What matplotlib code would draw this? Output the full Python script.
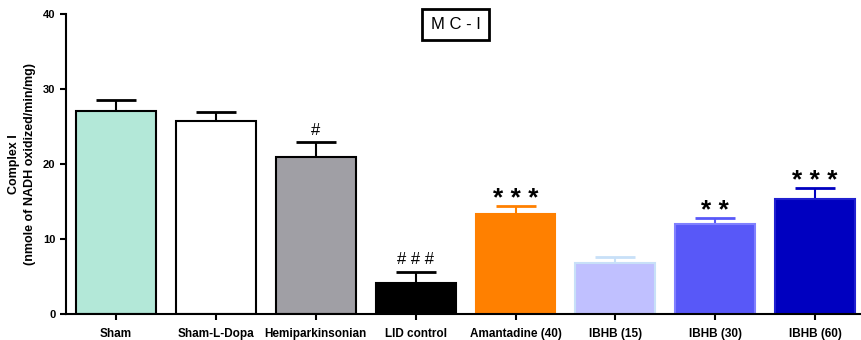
import numpy as np
import matplotlib.pyplot as plt

groups = ['Sham', 'Sham-L-Dopa', 'Hemiparkinsonian', 'LID control',
          'Amantadine (40)', 'IBHB (15)', 'IBHB (30)', 'IBHB (60)']
means = [27.1, 25.7, 20.9, 4.2, 13.3, 6.8, 12.0, 15.3]
sems = [1.5, 1.2, 2.0, 1.4, 1.1, 0.8, 0.8, 1.5]
marks = ['', '', '#', '###', '***', '', '**', '***']

fills = ['#b3e8d8', '#ffffff', '#a09fa5', '#000000',
         '#ff8000', '#c0c0ff', '#5858f8', '#0000c0']
edges = ['#000000', '#000000', '#000000', '#000000',
         '#ff8000', '#c8e0f8', '#8080ff', '#2020d0']
errc = ['#000000', '#000000', '#000000', '#000000',
        '#ff8000', '#c8e0f8', '#5858f8', '#0000c0']

plt.rcParams['font.family'] = ['Liberation Sans', 'DejaVu Sans']

fig = plt.figure(figsize=(8.61, 3.40), dpi=100)
ax = fig.add_axes([66/861, 26/340, 1 - 66/861 - 0.001, 300/340])

x = np.arange(len(groups))
ax.bar(x, means, width=0.8, color=fills, edgecolor=edges, linewidth=1.5, zorder=2)
for i in range(len(groups)):
    ax.errorbar(x[i], means[i], yerr=[[0], [sems[i]]], fmt='none',
                ecolor=errc[i], elinewidth=1.5, capsize=14.5, capthick=2, zorder=1)
    if marks[i]:
        if '*' in marks[i]:
            ax.text(x[i], means[i] + sems[i] - 0.6, ' '.join(marks[i]),
                    ha='center', va='bottom', fontsize=19, fontweight='bold',
                    color='black')
        else:
            ax.text(x[i], means[i] + sems[i] + 0.6, ' '.join(marks[i]),
                    ha='center', va='bottom', fontsize=12, color='black')

ax.set_xlim(-0.5, 7.45)
ax.set_ylim(0, 40)
ax.set_yticks([0, 10, 20, 30, 40])
ax.set_xticks(x)
ax.set_xticklabels(groups, fontsize=8.5, fontweight='bold')
ax.tick_params(axis='y', labelsize=8, width=1.5, length=4)
for lab in ax.get_yticklabels():
    lab.set_fontweight('bold')
ax.tick_params(axis='x', width=1.5, length=4, pad=6)
for s in ['top', 'right']:
    ax.spines[s].set_visible(False)
for s in ['left', 'bottom']:
    ax.spines[s].set_linewidth(1.5)

ax.set_ylabel('Complex I\n(nmole of NADH oxidized/min/mg)', fontsize=9,
              fontweight='bold', labelpad=5, linespacing=1.5)

ax.text(0.4906, 0.965, 'M C - I', transform=ax.transAxes, ha='center', va='center',
        fontsize=12, bbox=dict(boxstyle='square,pad=0.5', fc='white', ec='black', lw=2))

fig.savefig('out.png', dpi=100)
